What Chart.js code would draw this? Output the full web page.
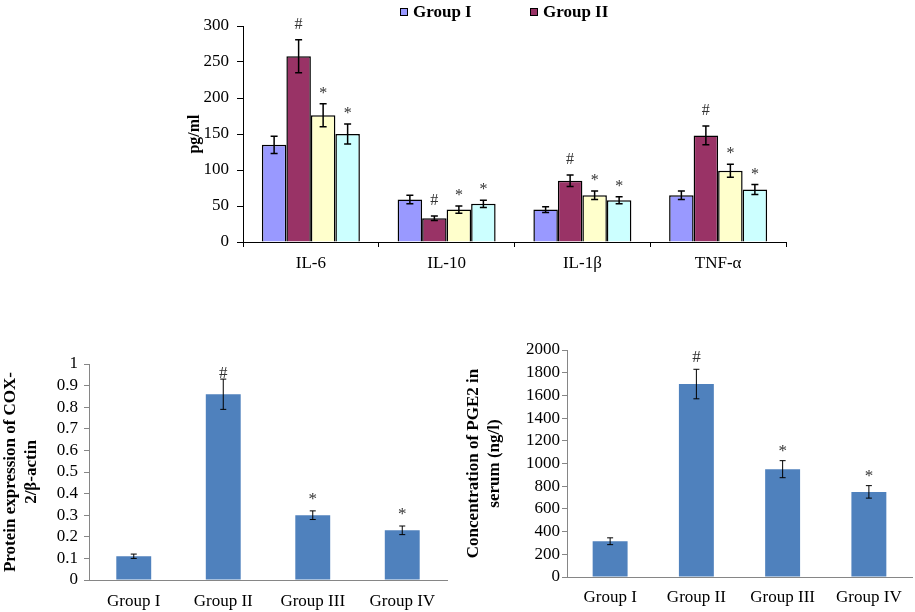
<!DOCTYPE html>
<html>
<head>
<meta charset="utf-8">
<script src="https://cdn.jsdelivr.net/npm/chart.js@4/dist/chart.umd.min.js"></script>
<style>
  html, body { margin: 0; padding: 0; background: #fff; }
  body { width: 915px; height: 612px; position: relative; overflow: hidden; }
  canvas { position: absolute; }
</style>
</head>
<body>
<canvas id="top" width="660" height="290" style="left:150px;top:0px"></canvas>
<canvas id="cox" width="455" height="282" style="left:0px;top:330px"></canvas>
<canvas id="pge" width="455" height="282" style="left:460px;top:330px"></canvas>
<script>
// ---------- DATA ----------
const cytokines = ['IL-6', 'IL-10', 'IL-1β', 'TNF-α'];
const groupNames = ['Group I', 'Group II', 'Group III', 'Group IV'];

const groupI   = [135, 59, 45, 65];
const groupII  = [258, 33, 85, 148];
const groupIII = [176, 45, 65, 99];
const groupIV  = [150, 53, 58, 73];

const errI   = [12, 6, 4, 6];
const errII  = [23, 3, 8, 13];
const errIII = [16, 5, 6, 9];
const errIV  = [14, 5, 5, 7];

const markI   = ['', '', '', ''];
const markII  = ['#', '#', '#', '#'];
const markIII = ['*', '*', '*', '*'];
const markIV  = ['*', '*', '*', '*'];

const coxValues = [0.11, 0.86, 0.30, 0.23];
const coxErrors = [0.01, 0.07, 0.02, 0.02];
const coxMarks  = ['', '#', '*', '*'];

const pgeValues = [315, 1700, 950, 750];
const pgeErrors = [30, 130, 75, 55];
const pgeMarks  = ['', '#', '*', '*'];

// ---------- STYLE ----------
const SERIF = '"Liberation Serif", "Times New Roman", serif';
Chart.defaults.font.family = SERIF;
Chart.defaults.color = '#000';

const errorBarPlugin = {
  id: 'errorBars',
  afterDatasetsDraw(chart, args, opts) {
    const ctx = chart.ctx;
    const ys = chart.scales.y;
    chart.data.datasets.forEach((ds, di) => {
      const meta = chart.getDatasetMeta(di);
      meta.data.forEach((bar, i) => {
        const v = ds.data[i];
        const e = ds.errors ? ds.errors[i] : 0;
        const x = bar.x;
        const yTop = ys.getPixelForValue(v + e);
        const yBot = ys.getPixelForValue(v - e);
        ctx.save();
        ctx.strokeStyle = opts.color;
        ctx.lineWidth = opts.width;
        ctx.beginPath();
        ctx.moveTo(x, yTop); ctx.lineTo(x, yBot);
        ctx.moveTo(x - opts.cap, yTop); ctx.lineTo(x + opts.cap, yTop);
        ctx.moveTo(x - opts.cap, yBot); ctx.lineTo(x + opts.cap, yBot);
        ctx.stroke();
        const m = ds.markers ? ds.markers[i] : '';
        if (m) {
          ctx.fillStyle = opts.markColor;
          ctx.font = opts.markFont;
          ctx.textAlign = 'center';
          ctx.textBaseline = 'middle';
          const gap = m === '*' ? opts.starGap : opts.hashGap;
          ctx.fillText(m, x, yTop - gap);
        }
        ctx.restore();
      });
    });
  }
};

const topLegendPlugin = {
  id: 'topLegend',
  afterDraw(chart, args, opts) {
    const ctx = chart.ctx;
    ctx.save();
    ctx.font = opts.font;
    ctx.textBaseline = 'middle';
    ctx.textAlign = 'left';
    chart.data.datasets.slice(0, opts.count).forEach((ds, i) => {
      const x = opts.x + i * opts.step;
      ctx.fillStyle = ds.backgroundColor;
      ctx.fillRect(x, opts.y - opts.box / 2, opts.box, opts.box);
      ctx.strokeStyle = '#000';
      ctx.lineWidth = 1;
      ctx.strokeRect(x + 0.5, opts.y - opts.box / 2 + 0.5, opts.box - 1, opts.box - 1);
      ctx.fillStyle = '#000';
      ctx.fillText(ds.label, x + opts.box + 5, opts.y + 1);
    });
    ctx.restore();
  }
};

// ---------- TOP CHART ----------
const mkDs = (label, data, err, marks, color) => ({
  label, data, errors: err, markers: marks,
  backgroundColor: color, borderColor: '#000', borderWidth: 1.5,
  categoryPercentage: 0.722, barPercentage: 1.0
});

new Chart(document.getElementById('top'), {
  type: 'bar',
  data: {
    labels: cytokines,
    datasets: [
      mkDs(groupNames[0], groupI, errI, markI, '#9999FF'),
      mkDs(groupNames[1], groupII, errII, markII, '#993366'),
      mkDs(groupNames[2], groupIII, errIII, markIII, '#FFFFCC'),
      mkDs(groupNames[3], groupIV, errIV, markIV, '#CCFFFF')
    ]
  },
  options: {
    responsive: false, animation: false,
    layout: { padding: { top: 26, right: 24, left: 0, bottom: 0 } },
    plugins: {
      legend: { display: false }, tooltip: { enabled: false },
      errorBars: { color: '#000', width: 1.5, cap: 3.5, markColor: '#333', markFont: '16px ' + SERIF, starGap: 10, hashGap: 15 },
      topLegend: { count: 2, x: 250, y: 12, step: 130, box: 8, font: 'bold 17px ' + SERIF }
    },
    scales: {
      x: {
        grid: { drawOnChartArea: false, drawTicks: true, tickLength: 5, color: '#000', offset: true },
        border: { color: '#000', width: 1 },
        ticks: { font: { size: 17 }, padding: 6, color: '#000' },
        afterFit(s) { s.height = 48; }
      },
      y: {
        min: 0, max: 300,
        grid: { drawOnChartArea: false, drawTicks: true, tickLength: 6, color: '#000' },
        border: { color: '#000', width: 1 },
        ticks: { stepSize: 50, autoSkip: false, font: { size: 17 }, padding: 8, color: '#000', callback: v => String(v) },
        title: { display: true, text: 'pg/ml', font: { size: 16, weight: 'bold' }, padding: { top: 35, bottom: 0 }, color: '#000' },
        afterFit(s) { s.width = 93; }
      }
    }
  },
  plugins: [errorBarPlugin, topLegendPlugin]
});

// ---------- BOTTOM CHARTS ----------
function bottomChart(id, values, errors, marks, yMax, yStep, titleLines, layout) {
  return new Chart(document.getElementById(id), {
    type: 'bar',
    data: {
      labels: groupNames,
      datasets: [{
        label: titleLines.join(' '), data: values, errors: errors, markers: marks,
        backgroundColor: '#4F81BD', borderWidth: 0,
        categoryPercentage: layout.barFrac, barPercentage: 1.0
      }]
    },
    options: {
      responsive: false, animation: false,
      layout: { padding: { top: layout.top, right: layout.right, left: 0, bottom: 0 } },
      plugins: {
        legend: { display: false }, tooltip: { enabled: false },
        errorBars: { color: '#000', width: 1, cap: 3, markColor: '#333', markFont: '17px ' + SERIF, starGap: layout.starGap, hashGap: layout.hashGap }
      },
      scales: {
        x: {
          grid: { display: false, drawTicks: false },
          border: { color: '#868686', width: 1 },
          ticks: { font: { size: 17 }, padding: layout.xPad, color: '#000' },
          afterFit(s) { s.height = layout.xH; }
        },
        y: {
          min: 0, max: yMax,
          grid: { drawOnChartArea: false, drawTicks: true, tickLength: 5, color: '#868686' },
          border: { color: '#868686', width: 1 },
          ticks: { stepSize: yStep, autoSkip: false, font: { size: 17 }, padding: layout.yPad, color: '#000',
                   callback: v => String(Math.round(v * 1000) / 1000) },
          title: { display: true, text: titleLines, font: { size: 17, weight: 'bold', lineHeight: 1.25 }, padding: { top: layout.titlePad, bottom: 0 }, color: '#000' },
          afterFit(s) { s.width = layout.yW; }
        }
      }
    },
    plugins: [errorBarPlugin]
  });
}

bottomChart('cox', coxValues, coxErrors, coxMarks, 1, 0.1,
  ['Protein expression of COX-', '2/β-actin'],
  { top: 34, right: 8, barFrac: 0.39, xH: 32, xPad: 11, yW: 89, yPad: 6, titlePad: 0, starGap: 11, hashGap: 6 });

bottomChart('pge', pgeValues, pgeErrors, pgeMarks, 2000, 200,
  ['Concentration of PGE2 in', 'serum (ng/l)'],
  { top: 20, right: 3, barFrac: 0.405, xH: 35, xPad: 10, yW: 107, yPad: 2, titlePad: 3, starGap: 9, hashGap: 12 });
</script>
</body>
</html>
